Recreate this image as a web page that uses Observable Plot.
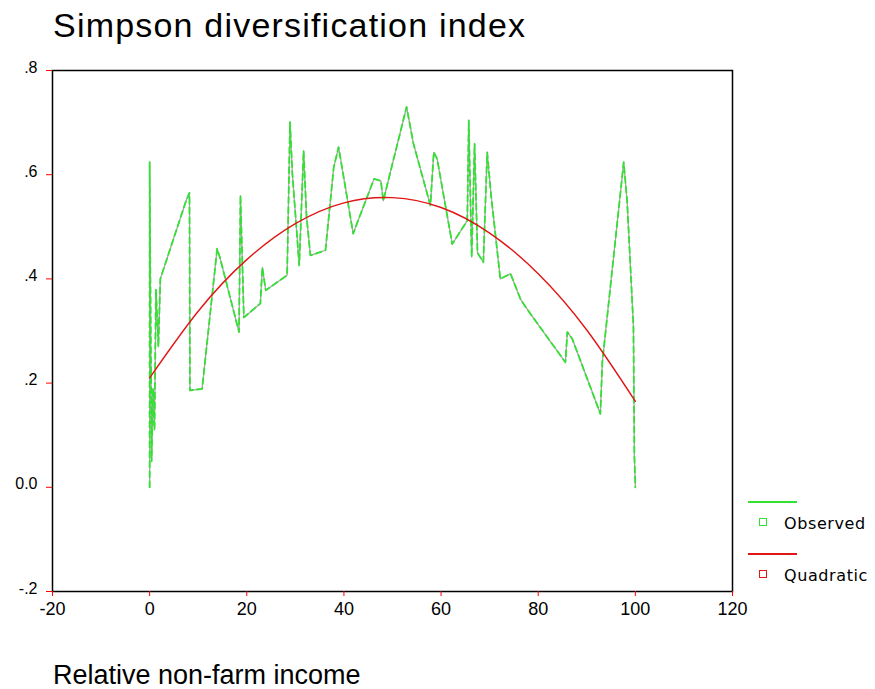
<!DOCTYPE html>
<html>
<head>
<meta charset="utf-8">
<script src="https://cdn.jsdelivr.net/npm/d3@7"></script>
<script src="https://cdn.jsdelivr.net/npm/@observablehq/plot@0.6"></script>
<style>
  html, body { margin: 0; padding: 0; background: #fff; }
  #wrap { position: relative; width: 875px; height: 689px; overflow: hidden; }
  #title { position: absolute; left: 53px; top: 6px; font: 34px "Liberation Sans", Arial, sans-serif; letter-spacing: 1.2px; color: #000; white-space: nowrap; }
  #xlabel { position: absolute; left: 53px; top: 660px; font: 27px "Liberation Sans", Arial, sans-serif; color: #000; white-space: nowrap; }
  #legend { position: absolute; left: 740px; top: 490px; font: 16px "DejaVu Sans", sans-serif; color: #000; }
  .lg-line { position: absolute; left: 8px; width: 49px; height: 2px; }
  .lg-box { position: absolute; left: 19px; width: 6px; height: 6px; border: 1.5px solid; background: #fff; }
  .lg-text { position: absolute; left: 44px; white-space: nowrap; letter-spacing: 0.6px; }
  #chart { position: absolute; left: 0; top: 0; }
</style>
</head>
<body>
<div id="wrap">
  <div id="chart"></div>
  <div id="title">Simpson diversification index</div>
  <div id="xlabel">Relative non-farm income</div>
  <div id="legend"></div>
</div>
<script>
// Observed series (x = relative non-farm income, y = Simpson index)
const obsX = [0, 0, 0.4, 0.7, 1.0, 1.3, 1.8, 2.2, 7.5, 8.2, 8.3, 10.8, 13.9, 14.5, 18.4, 18.7, 19.4, 22.8, 23.2, 23.9, 28.3, 28.9, 29.4, 30.8, 31.7, 32.3, 33.1, 36.2, 37.9, 38.9, 39.5, 41.9, 46.2, 47.6, 48.1, 52.9, 54.3, 57.8, 58.5, 59.2, 62.3, 65.4, 65.7, 66.3, 66.9, 67.5, 68.7, 69.5, 70.3, 72.2, 74.3, 76.4, 78.4, 85.6, 86.0, 87.0, 92.8, 93.2, 97.6, 98.3, 99.6, 99.8, 100];
const obsY = [0.0, 0.624, 0.05, 0.19, 0.11, 0.38, 0.27, 0.40, 0.55, 0.565, 0.186, 0.189, 0.458, 0.44, 0.298, 0.56, 0.326, 0.353, 0.422, 0.378, 0.407, 0.701, 0.60, 0.426, 0.646, 0.52, 0.445, 0.455, 0.614, 0.653, 0.62, 0.487, 0.592, 0.588, 0.55, 0.73, 0.66, 0.541, 0.643, 0.63, 0.467, 0.512, 0.704, 0.442, 0.659, 0.45, 0.432, 0.643, 0.56, 0.40, 0.41, 0.36, 0.333, 0.24, 0.298, 0.285, 0.141, 0.24, 0.624, 0.55, 0.31, 0.06, 0.0];

const quadX = [0, 10, 20, 30, 40, 50, 60, 70, 80, 90, 100];
const quadY = [0.21, 0.338, 0.437, 0.506, 0.546, 0.556, 0.537, 0.488, 0.410, 0.302, 0.165];

// Tick values and labels
const xTicks = [-20, 0, 20, 40, 60, 80, 100, 120];
const yTicks = [-0.2, 0, 0.2, 0.4, 0.6, 0.8];
const yTickLabels = ["-.2", "0.0", ".2", ".4", ".6", ".8"];

// Legend entries
const legendNames = ["Observed", "Quadratic"];
const legendColors = ["#33e033", "#e01515"];

const observed = obsX.map((x, i) => ({x, y: obsY[i]}));
const quadratic = quadX.map((x, i) => ({x, y: quadY[i]}));

const chart = Plot.plot({
  width: 875,
  height: 689,
  marginLeft: 52,
  marginRight: 143,
  marginTop: 70,
  marginBottom: 98,
  style: { fontFamily: "'Liberation Sans', Arial, sans-serif", fontSize: "17px", background: "transparent" },
  x: { domain: [-20, 120] },
  y: { domain: [-0.2, 0.8] },
  marks: [
    Plot.line(observed, { x: "x", y: "y", stroke: "#a8a8a8", strokeWidth: 1.3 }),
    Plot.line(observed, { x: "x", y: "y", stroke: legendColors[0], strokeWidth: 1.8, strokeDasharray: "6 4" }),
    Plot.line(quadratic, { x: "x", y: "y", stroke: legendColors[1], strokeWidth: 1.4, curve: "natural" }),
    Plot.frame({ stroke: "#000", strokeWidth: 1.5 }),
    Plot.axisX({ ticks: xTicks, tickFormat: d => String(d), stroke: "red", fill: "#000", tickSize: 5, tickPadding: 6, label: null, fontSize: 18 }),
    Plot.axisY({ ticks: yTicks, tickFormat: () => "", stroke: "red", tickSize: 6, label: null }),
    Plot.axisY({ ticks: yTicks, tickFormat: d => yTickLabels[yTicks.indexOf(d)], stroke: "none", fill: "#000", tickSize: 0, tickPadding: 15, dy: -3, label: null, fontSize: 16 })
  ]
});
document.getElementById("chart").appendChild(chart);

// Legend
const lg = document.getElementById("legend");
legendNames.forEach((name, i) => {
  const off = i * 52;
  const line = document.createElement("div");
  line.className = "lg-line";
  line.style.top = (11 + off) + "px";
  line.style.background = legendColors[i];
  lg.appendChild(line);
  const box = document.createElement("div");
  box.className = "lg-box";
  box.style.top = (28 + off) + "px";
  box.style.borderColor = legendColors[i];
  lg.appendChild(box);
  const t = document.createElement("div");
  t.className = "lg-text";
  t.style.top = (24 + off) + "px";
  t.textContent = name;
  lg.appendChild(t);
});
</script>
</body>
</html>
